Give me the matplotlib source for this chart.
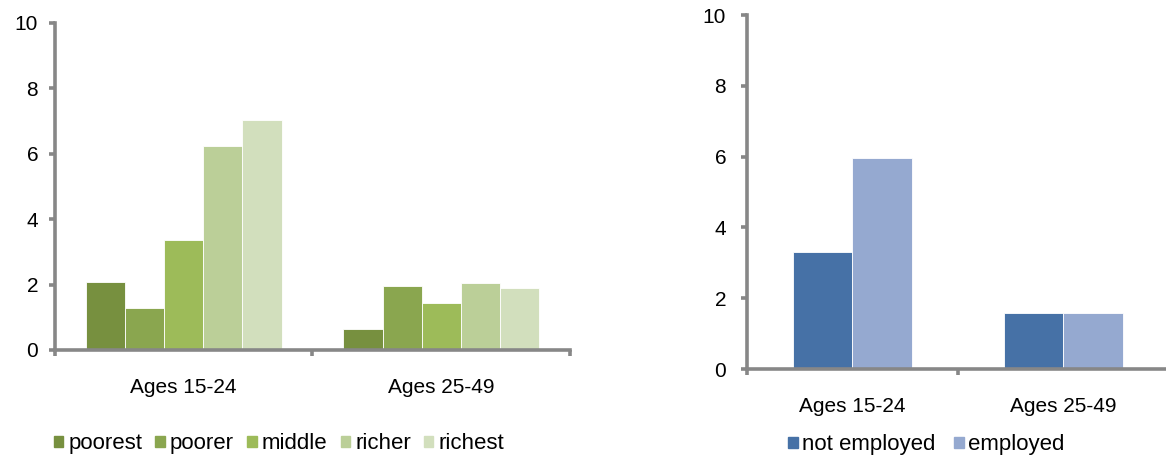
import numpy as np
import matplotlib
matplotlib.use("Agg")
import matplotlib.pyplot as plt
from matplotlib.patches import Patch

plt.rcParams['font.family'] = ['Liberation Sans', 'DejaVu Sans']

age_groups = ["Ages 15-24", "Ages 25-49"]

wealth_labels = ["poorest", "poorer", "middle", "richer", "richest"]
wealth_values = [
    [2.08, 0.63],   # poorest
    [1.28, 1.97],   # poorer
    [3.37, 1.43],   # middle
    [6.25, 2.04],   # richer
    [7.04, 1.91],   # richest
]
wealth_colors = ["#77903f", "#8aa64f", "#9dbb59", "#bbcf98", "#d2dfbd"]

employ_labels = ["not employed", "employed"]
employ_values = [
    [3.32, 1.58],   # not employed
    [5.97, 1.58],   # employed
]
employ_colors = ["#4671a6", "#95a9d0"]

AXIS_GRAY = "#878787"
FS = 15


def style_axes(ax, ypad, xpad):
    for side in ("top", "right"):
        ax.spines[side].set_visible(False)
    for side in ("left", "bottom"):
        ax.spines[side].set_color(AXIS_GRAY)
        ax.spines[side].set_linewidth(2.6)
    ax.set_ylim(0, 10)
    ax.set_yticks(range(0, 11, 2))
    ax.set_xlim(-0.5, len(age_groups) - 0.5)
    # category boundaries carry the tick marks, names sit in between
    ax.set_xticks(np.arange(len(age_groups) + 1) - 0.5)
    ax.set_xticklabels([])
    ax.set_xticks(np.arange(len(age_groups)), minor=True)
    ax.set_xticklabels(age_groups, minor=True)
    ax.tick_params(axis="x", which="minor", length=0, labelsize=FS, pad=xpad)
    ax.tick_params(axis="x", which="major", length=4, width=2.6, color=AXIS_GRAY)
    ax.tick_params(axis="y", length=4, width=2.6, color=AXIS_GRAY, labelsize=FS, pad=ypad)


def grouped_bars(ax, values, colors, group_width):
    n = len(values)
    w = group_width / n
    x = np.arange(len(age_groups))
    for i, (vals, col) in enumerate(zip(values, colors)):
        offset = (i - (n - 1) / 2) * w
        ax.bar(x + offset, vals, width=w, color=col, edgecolor="white",
               linewidth=0.6, zorder=2)


fig = plt.figure(figsize=(11.66, 4.59), dpi=100)

ax1 = fig.add_axes([0.047, 0.2375, 0.442, 0.7125])
grouped_bars(ax1, wealth_values, wealth_colors, 0.76)
style_axes(ax1, ypad=8, xpad=20)

ax2 = fig.add_axes([0.6407, 0.196, 0.3613, 0.771])
grouped_bars(ax2, employ_values, employ_colors, 0.565)
style_axes(ax2, ypad=11, xpad=20)

leg_kw = dict(frameon=False, handlelength=0.42, handleheight=0.42,
              borderpad=0, borderaxespad=0)

fig.legend(handles=[Patch(color=c, label=l) for c, l in zip(wealth_colors, wealth_labels)],
           loc="center left", bbox_to_anchor=(0.046, 0.033), ncol=5,
           fontsize=16, handletextpad=0.23, columnspacing=0.6, **leg_kw)
fig.legend(handles=[Patch(color=c, label=l) for c, l in zip(employ_colors, employ_labels)],
           loc="center left", bbox_to_anchor=(0.676, 0.031), ncol=2,
           fontsize=16, handletextpad=0.2, columnspacing=0.85, **leg_kw)

fig.savefig("out.png", dpi=100)
